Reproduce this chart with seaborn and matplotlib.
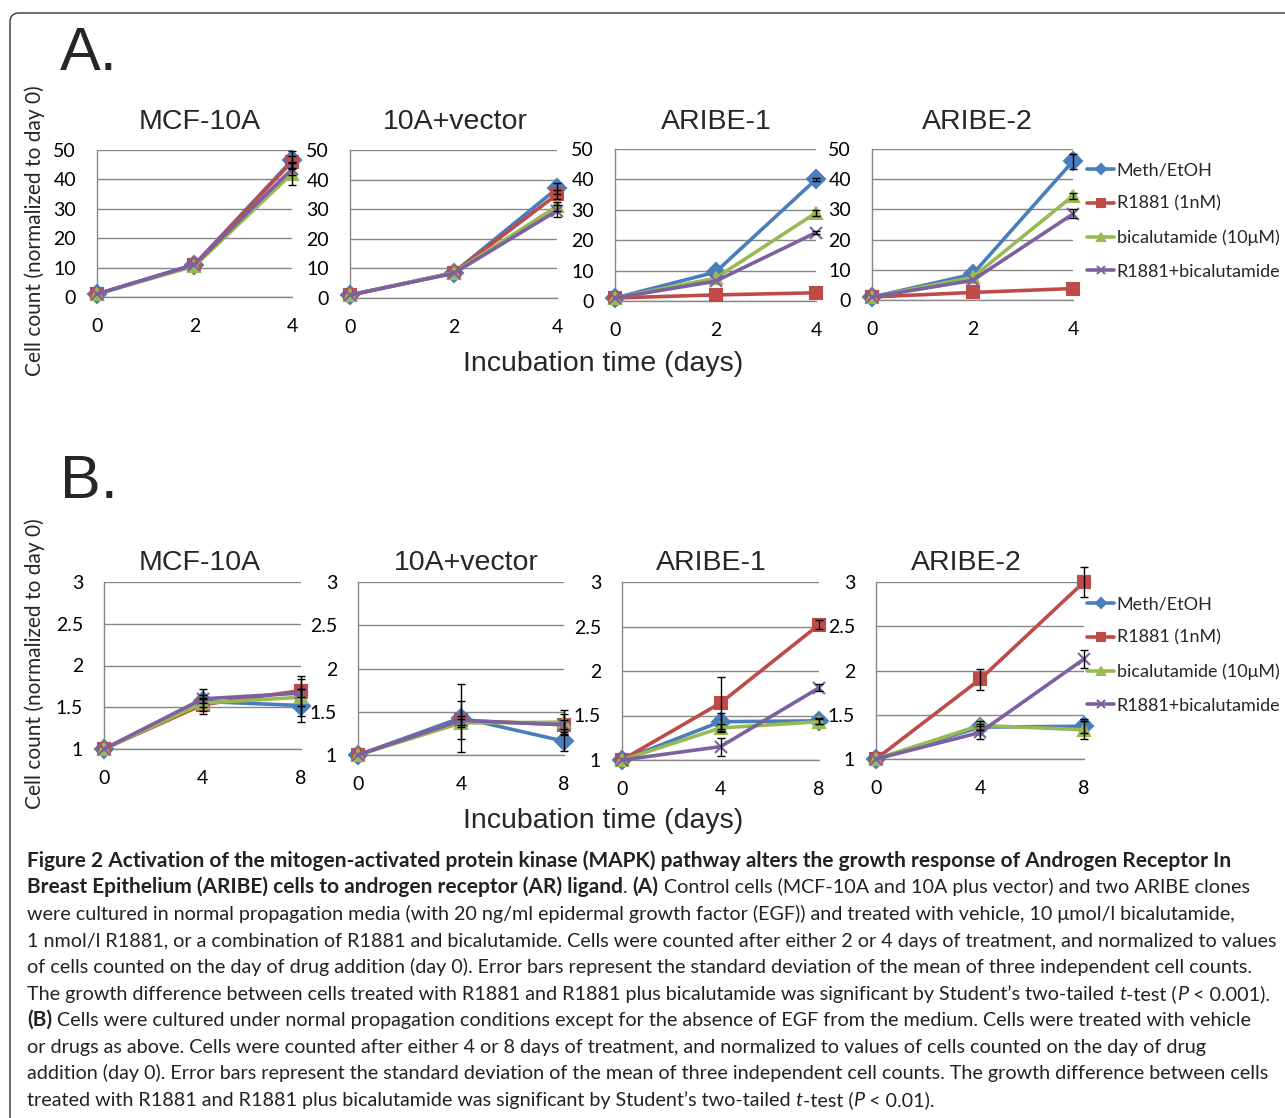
import matplotlib
matplotlib.use("Agg")
import matplotlib.pyplot as plt
from matplotlib.patches import FancyBboxPatch
import pandas as pd
import seaborn as sns

W, H = 1285, 1118

treatments = ['Meth/EtOH', 'R1881 (1nM)', 'bicalutamide (10μM)', 'R1881+bicalutamide']
colors = ['#4A7EBB', '#BE4B48', '#98B954', '#7D60A0']
markers = ['D', 's', '^', 'x']
cell_lines = ['MCF-10A', '10A+vector', 'ARIBE-1', 'ARIBE-2']

# panel A (with EGF): days 0, 2, 4 ; one row per treatment
days_a = [0, 2, 4]
a_mcf10a = [[1, 11, 46.5], [1, 11, 46], [1, 10.5, 42], [1, 11, 43.5]]
a_mcf10a_err = [[0, 0, 3], [0, 0, 2], [0, 0, 4], [0, 0, 2]]
a_vector = [[1, 8.5, 37], [1, 8.5, 35], [1, 8.5, 31], [1, 8.3, 29.5]]
a_vector_err = [[0, 0, 2], [0, 0, 1.5], [0, 0, 1.5], [0, 0, 2]]
a_aribe1 = [[1, 9.5, 40], [1, 2, 2.7], [1, 7.5, 29], [1, 6.5, 22.5]]
a_aribe1_err = [[0, 0, 0.5], [0, 0, 0], [0, 0, 1], [0, 0, 0.5]]
a_aribe2 = [[1, 8.5, 46], [1, 2.5, 3.8], [1, 7.5, 34.5], [1, 6.5, 28.5]]
a_aribe2_err = [[0, 0, 2.5], [0, 0, 0], [0, 0, 1], [0, 0, 1.5]]

# panel B (no EGF): days 0, 4, 8
days_b = [0, 4, 8]
b_mcf10a = [[1, 1.57, 1.52], [1, 1.53, 1.70], [1, 1.55, 1.62], [1, 1.60, 1.67]]
b_mcf10a_err = [[0, 0.15, 0.2], [0, 0.08, 0.18], [0, 0.05, 0.22], [0, 0.05, 0.05]]
b_vector = [[1, 1.43, 1.16], [1, 1.40, 1.35], [1, 1.37, 1.38], [1, 1.40, 1.35]]
b_vector_err = [[0, 0.39, 0.11], [0, 0.22, 0.12], [0, 0.05, 0.14], [0, 0.05, 0.05]]
b_aribe1 = [[1, 1.43, 1.44], [1, 1.64, 2.52], [1, 1.36, 1.43], [1, 1.15, 1.81]]
b_aribe1_err = [[0, 0.1, 0.03], [0, 0.29, 0.05], [0, 0.05, 0.03], [0, 0.1, 0.04]]
b_aribe2 = [[1, 1.36, 1.37], [1, 1.90, 3.0], [1, 1.38, 1.33], [1, 1.30, 2.13]]
b_aribe2_err = [[0, 0.03, 0.08], [0, 0.12, 0.17], [0, 0.05, 0.1], [0, 0.07, 0.1]]

a_yticks = [0, 10, 20, 30, 40, 50]
a_ylabels = ['0', '10', '20', '30', '40', '50']
b_yticks = [1, 1.5, 2, 2.5, 3]
b_ylabels = ['1', '1.5', '2', '2.5', '3']

caption_lines = [
    [("Figure 2 Activation of the mitogen-activated protein kinase (MAPK) pathway alters the growth response of Androgen Receptor In", 'bold', 'normal', False)],
    [("Breast Epithelium (ARIBE) cells to androgen receptor (AR) ligand", 'bold', 'normal', False),
     (".", 'normal', 'normal', False),
     ("(A)", 'bold', 'normal', True),
     ("Control cells (MCF-10A and 10A plus vector) and two ARIBE clones", 'normal', 'normal', True)],
    [("were cultured in normal propagation media (with 20 ng/ml epidermal growth factor (EGF)) and treated with vehicle, 10 μmol/l bicalutamide,", 'normal', 'normal', False)],
    [("1 nmol/l R1881, or a combination of R1881 and bicalutamide. Cells were counted after either 2 or 4 days of treatment, and normalized to values", 'normal', 'normal', False)],
    [("of cells counted on the day of drug addition (day 0). Error bars represent the standard deviation of the mean of three independent cell counts.", 'normal', 'normal', False)],
    [("The growth difference between cells treated with R1881 and R1881 plus bicalutamide was significant by Student’s two-tailed", 'normal', 'normal', False),
     ("t", 'normal', 'italic', True), ("-test (", 'normal', 'normal', False),
     ("P", 'normal', 'italic', False), ("< 0.001).", 'normal', 'normal', True)],
    [("(B)", 'bold', 'normal', False),
     ("Cells were cultured under normal propagation conditions except for the absence of EGF from the medium. Cells were treated with vehicle", 'normal', 'normal', True)],
    [("or drugs as above. Cells were counted after either 4 or 8 days of treatment, and normalized to values of cells counted on the day of drug", 'normal', 'normal', False)],
    [("addition (day 0). Error bars represent the standard deviation of the mean of three independent cell counts. The growth difference between cells", 'normal', 'normal', False)],
    [("treated with R1881 and R1881 plus bicalutamide was significant by Student’s two-tailed", 'normal', 'normal', False),
     ("t", 'normal', 'italic', True), ("-test (", 'normal', 'normal', False),
     ("P", 'normal', 'italic', False), ("< 0.01).", 'normal', 'normal', True)],
]

sns.set_style("white")
SANS = ['Liberation Sans', 'DejaVu Sans']
CALI = ['Lato', 'DejaVu Sans']
plt.rcParams['font.family'] = CALI
GRID = '#878787'


def add_axes_px(fig, x0, y0, x1, y1):
    return fig.add_axes([x0 / W, 1 - y1 / H, (x1 - x0) / W, (y1 - y0) / H])


def draw_panel(ax, days, values, errors, yticks, ylabels):
    for t, vals, c, m in zip(treatments, values, colors, markers):
        df = pd.DataFrame({'day': days, 'count': vals})
        sns.lineplot(data=df, x='day', y='count', color=c, marker=m, linewidth=2.6,
                     markersize=9, markeredgecolor=c, markeredgewidth=1.5,
                     label=t, legend=False, ax=ax, clip_on=False, zorder=3)
    for vals, errs in zip(values, errors):
        xs = [d for d, e in zip(days, errs) if e > 0]
        ys = [v for v, e in zip(vals, errs) if e > 0]
        es = [e for e in errs if e > 0]
        if xs:
            ax.errorbar(xs, ys, yerr=es, fmt='none', ecolor='black', elinewidth=1,
                        capsize=3, capthick=1, zorder=4, clip_on=False)
    ax.set_xlim(days[0], days[-1])
    ax.set_ylim(yticks[0], yticks[-1])
    ax.set_xticks(days)
    ax.set_xticklabels([str(d) for d in days])
    ax.set_yticks(yticks)
    ax.set_yticklabels(ylabels)
    ax.set_xlabel('')
    ax.set_ylabel('')
    ax.grid(axis='y', color=GRID, lw=1)
    ax.set_axisbelow(True)
    for s in ['top', 'right']:
        ax.spines[s].set_visible(False)
    for s in ['left', 'bottom']:
        ax.spines[s].set_color(GRID)
        ax.spines[s].set_linewidth(1)
    ax.tick_params(axis='both', direction='out', colors=GRID, labelcolor='black',
                   length=5, width=1, labelsize=14)
    ax.tick_params(axis='y', pad=10)
    ax.tick_params(axis='x', pad=10)
    ax.patch.set_alpha(0)


fig = plt.figure(figsize=(W / 100, H / 100), dpi=100)

# rounded frame
frame = FancyBboxPatch((0.10, -0.3), 13.5, 11.35, boxstyle='round,pad=0,rounding_size=0.09',
                       transform=fig.dpi_scale_trans, fc='none', ec='#333333', lw=1.0)
fig.patches.append(frame)

a_boxes = [(97, 150, 292, 297), (350, 150, 557, 298), (615, 149, 816, 301), (872, 149, 1073, 300)]
b_boxes = [(104, 582, 301, 749), (358, 582, 564, 755), (622, 582, 819, 760), (876, 582, 1084, 759)]
a_data = [(a_mcf10a, a_mcf10a_err), (a_vector, a_vector_err), (a_aribe1, a_aribe1_err), (a_aribe2, a_aribe2_err)]
b_data = [(b_mcf10a, b_mcf10a_err), (b_vector, b_vector_err), (b_aribe1, b_aribe1_err), (b_aribe2, b_aribe2_err)]
a_title_pos = [(200, 122), (455, 122), (716, 122), (977, 122)]
b_title_pos = [(200, 563), (466, 563), (711, 563), (966, 563)]

for boxes, data, days, yt, yl, tpos in [
        (a_boxes, a_data, days_a, a_yticks, a_ylabels, a_title_pos),
        (b_boxes, b_data, days_b, b_yticks, b_ylabels, b_title_pos)]:
    last_ax = None
    for box, (vals, errs), name, (tx, ty) in zip(boxes, data, cell_lines, tpos):
        ax = add_axes_px(fig, *box)
        draw_panel(ax, days, vals, errs, yt, yl)
        fig.text(tx / W, 1 - ty / H, name, ha='center', va='center', fontsize=20.5, family=SANS)
        last_ax = ax
    handles = last_ax.lines[:4]
    top = 162 if boxes is a_boxes else 596
    fig.legend(handles, treatments, loc='upper left', bbox_to_anchor=(1087 / W, 1 - top / H),
               frameon=False, fontsize=13, handlelength=1.5, handletextpad=0.15,
               labelspacing=0.98, borderpad=0, borderaxespad=0, markerscale=0.6)

fig.text(89 / W, 1 - 54 / H, 'A.', ha='center', va='center', fontsize=44, family=SANS)
fig.text(89 / W, 1 - 483 / H, 'B.', ha='center', va='center', fontsize=44, family=SANS)
fig.text(603 / W, 1 - 364 / H, 'Incubation time (days)', ha='center', va='center', fontsize=20.5, family=SANS)
fig.text(603 / W, 1 - 821 / H, 'Incubation time (days)', ha='center', va='center', fontsize=20.5, family=SANS)
fig.text(35 / W, 1 - 231 / H, 'Cell count (normalized to day 0)', rotation=90, ha='center', va='center', fontsize=15)
fig.text(35 / W, 1 - 664 / H, 'Cell count (normalized to day 0)', rotation=90, ha='center', va='center', fontsize=15)

# caption
renderer = fig.canvas.get_renderer()
CAP = 14.2
CAP_BOLD = 15.0
probe1 = fig.text(0, 0, 'x x', fontsize=CAP)
probe2 = fig.text(0, 0, 'xx', fontsize=CAP)
space_w = probe1.get_window_extent(renderer).width - probe2.get_window_extent(renderer).width
probe1.remove()
probe2.remove()

line_y = [861, 887, 914, 941, 967, 994, 1020, 1047, 1073, 1100]
for y, pieces in zip(line_y, caption_lines):
    x = 27
    for text, weight, style, lead in pieces:
        if lead:
            x += space_w
        size = CAP_BOLD if weight == 'bold' else CAP
        t = fig.text(x / W, 1 - (y + 6) / H, text, fontsize=size, fontweight=weight,
                     fontstyle=style, ha='left', va='baseline', color='#222222')
        x += t.get_window_extent(renderer).width

fig.savefig('out.png', dpi=100)
